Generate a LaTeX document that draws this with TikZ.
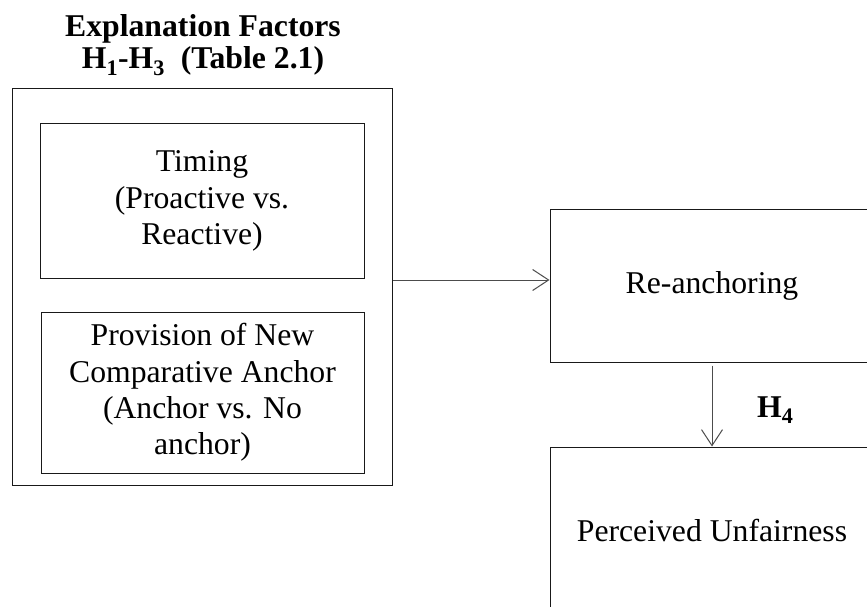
\documentclass[tikz,border=0pt]{standalone}
\usepackage{fontspec}
\setmainfont{Liberation Serif}
\usetikzlibrary{arrows.meta}
\begin{document}
\begin{tikzpicture}[x=1pt,y=1pt,
  txt/.style={font=\fontsize{31.7}{36.4}\selectfont},
  box/.style={draw=black!90, line width=1pt, align=center, inner sep=0pt, txt},
  ttl/.style={inner sep=0pt, font=\fontsize{31.7}{36.4}\selectfont\bfseries},
  conn/.style={draw=black!70, line width=1pt, -{Straight Barb[length=16pt,width=21pt]}},
]
\useasboundingbox (0,0) rectangle (867,-607);
\clip (0,0) rectangle (867,-607);
% title
\node[ttl, anchor=base] (t1) at (203,-37) {Explanation Factors};
\node[ttl, anchor=base] (t2) at (203,-69) {H\textsubscript{1}-H\textsubscript{3}\ \ (Table 2.1)};
% left group
\node[box, minimum width=380pt, minimum height=396pt] (outer) at (202,-287) {};
\node[box, minimum width=324pt, minimum height=154pt] (timing) at (202,-201)
  {Timing\\(Proactive vs.\\Reactive)};
\node[box, minimum width=323pt, minimum height=161pt] (prov) at (202.5,-392.5)
  {Provision of New\\Comparative Anchor\\(Anchor vs. No\\anchor)};
% right boxes
\node[box, minimum width=324pt, minimum height=153pt] (re) at (712,-285.5) {Re-anchoring};
\node[box, minimum width=324pt, minimum height=166pt] (pu) at (712,-530) {Perceived Unfairness};
% connectors
\coordinate (a) at ([yshift=7pt]outer.east);
\draw[conn] (a) -- (a -| re.west);
\draw[conn] ([yshift=-3pt]re.south) -- (pu.north);
\node[ttl, anchor=base west] (h4) at (757,-417) {H\textsubscript{4}};
\end{tikzpicture}
\end{document}
